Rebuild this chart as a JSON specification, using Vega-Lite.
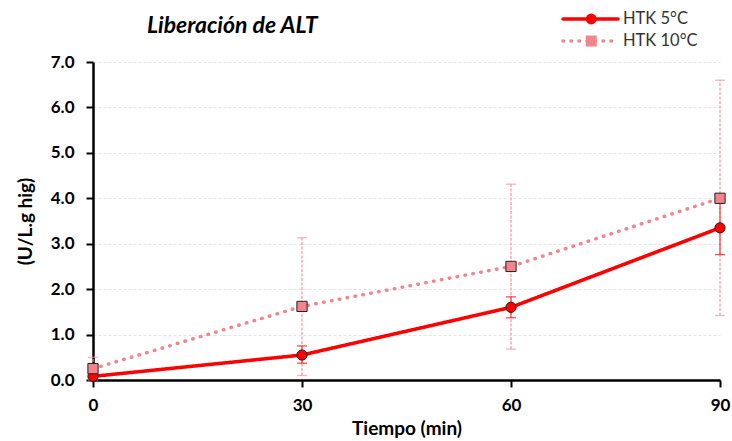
{
  "$schema": "https://vega.github.io/schema/vega-lite/v6.json",
  "width": 627,
  "height": 318,
  "autosize": {"type": "none"},
  "padding": {"left": 93, "top": 62, "right": 12, "bottom": 61},
  "background": "white",
  "config": {
    "view": {"stroke": null},
    "font": "Lato",
    "axis": {
      "domainColor": "#000000",
      "domainWidth": 2.5,
      "tickColor": "#000000",
      "tickWidth": 2,
      "labelFlush": false,
      "labelFont": "Lato",
      "labelFontSize": 17,
      "labelFontWeight": "bold",
      "labelColor": "#000000",
      "titleFont": "Lato",
      "titleFontSize": 19,
      "titleFontWeight": "bold",
      "titleColor": "#000000"
    },
    "legend": {
      "labelFont": "Lato",
      "labelFontSize": 16.5,
      "labelColor": "#333333",
      "padding": 0,
      "clipHeight": 18
    }
  },
  "title": {
    "text": "Liberación de ALT",
    "anchor": "start",
    "frame": "group",
    "dx": 54,
    "dy": 75,
    "offset": 29,
    "baseline": "alphabetic",
    "font": "Lato",
    "fontSize": 23,
    "fontStyle": "italic",
    "fontWeight": "bold",
    "color": "#000000"
  },
  "data": {
    "values": [
      {"series": "HTK 5°C", "tiempo": 0, "media": 0.08, "inf": 0.05, "sup": 0.11},
      {"series": "HTK 5°C", "tiempo": 30, "media": 0.55, "inf": 0.37, "sup": 0.75},
      {"series": "HTK 5°C", "tiempo": 60, "media": 1.6, "inf": 1.37, "sup": 1.83},
      {"series": "HTK 5°C", "tiempo": 90, "media": 3.35, "inf": 2.76, "sup": 3.94},
      {"series": "HTK 10°C", "tiempo": 0, "media": 0.25, "inf": 0.0, "sup": 0.5},
      {"series": "HTK 10°C", "tiempo": 30, "media": 1.62, "inf": 0.1, "sup": 3.13},
      {"series": "HTK 10°C", "tiempo": 60, "media": 2.5, "inf": 0.68, "sup": 4.31},
      {"series": "HTK 10°C", "tiempo": 90, "media": 4.0, "inf": 1.42, "sup": 6.6}
    ]
  },
  "encoding": {
    "x": {
      "field": "tiempo",
      "type": "quantitative",
      "scale": {"domain": [0, 90], "nice": false},
      "axis": {
        "values": [0, 30, 60, 90],
        "title": "Tiempo (min)",
        "grid": false,
        "tickSize": 7,
        "labelPadding": 10,
        "titlePadding": 6
      }
    }
  },
  "layer": [
    {
      "mark": {"type": "rule", "strokeWidth": 1.2},
      "encoding": {
        "y": {
          "field": "inf",
          "type": "quantitative",
          "scale": {"domain": [0, 7], "nice": false},
          "axis": {
            "values": [0, 0.5, 1, 1.5, 2, 2.5, 3, 3.5, 4, 4.5, 5, 5.5, 6, 6.5, 7],
            "labelExpr": "datum.value % 1 === 0 ? format(datum.value, '.1f') : ''",
            "title": "(U/L.g hig)",
            "tickSize": 7,
            "labelPadding": 12,
            "titlePadding": 15,
            "grid": true,
            "gridColor": "#e4e4e4",
            "gridDash": [3, 2],
            "gridOpacity": {"condition": {"test": "datum.value % 1 === 0", "value": 1}, "value": 0}
          }
        },
        "y2": {"field": "sup"},
        "stroke": {"condition": {"test": "datum.series === 'HTK 5°C'", "value": "#FF0000"}, "value": "#F7939B"},
        "strokeDash": {"condition": {"test": "datum.series === 'HTK 5°C'", "value": [1, 0]}, "value": [3, 1.5]}
      }
    },
    {
      "mark": {"type": "tick", "orient": "horizontal", "size": 10, "thickness": 1.3},
      "encoding": {
        "y": {"field": "inf", "type": "quantitative"},
        "color": {"condition": {"test": "datum.series === 'HTK 5°C'", "value": "#FF0000"}, "value": "#F7939B"}
      }
    },
    {
      "mark": {"type": "tick", "orient": "horizontal", "size": 10, "thickness": 1.3},
      "encoding": {
        "y": {"field": "sup", "type": "quantitative"},
        "color": {"condition": {"test": "datum.series === 'HTK 5°C'", "value": "#FF0000"}, "value": "#F7939B"}
      }
    },
    {
      "mark": {"type": "line", "strokeWidth": 3.5, "strokeCap": "round"},
      "encoding": {
        "y": {"field": "media", "type": "quantitative"},
        "color": {
          "field": "series",
          "type": "nominal",
          "scale": {"domain": ["HTK 5°C", "HTK 10°C"], "range": ["#FF0000", "#F4848C"]},
          "legend": {
            "orient": "none",
            "legendX": 468,
            "legendY": -52,
            "title": null,
            "symbolType": "stroke",
            "symbolSize": 3025,
            "symbolStrokeWidth": 3.5,
            "labelOffset": 3,
            "rowPadding": 4,
            "encode": {"symbols": {"update": {"strokeCap": {"value": "round"}}}}
          }
        },
        "strokeDash": {
          "field": "series",
          "type": "nominal",
          "scale": {"domain": ["HTK 5°C", "HTK 10°C"], "range": [[1, 0], [0.5, 7.5]]}
        }
      }
    },
    {
      "transform": [{"calculate": "datum.series", "as": "marcador"}],
      "mark": {"type": "point", "filled": true, "size": 105, "stroke": "#222222", "strokeWidth": 1, "opacity": 1},
      "encoding": {
        "y": {"field": "media", "type": "quantitative"},
        "shape": {
          "field": "marcador",
          "type": "nominal",
          "sort": "descending",
          "scale": {"range": ["circle", "square"]},
          "legend": {
            "orient": "none",
            "legendX": 490,
            "legendY": -52,
            "title": null,
            "symbolSize": 120,
            "symbolStrokeColor": "#222222",
            "symbolStrokeWidth": 1,
            "labelExpr": "''",
            "rowPadding": 4
          }
        },
        "fill": {
          "field": "marcador",
          "type": "nominal",
          "sort": "descending",
          "scale": {"range": ["#FF0000", "#F4848C"]}
        }
      }
    }
  ]
}
